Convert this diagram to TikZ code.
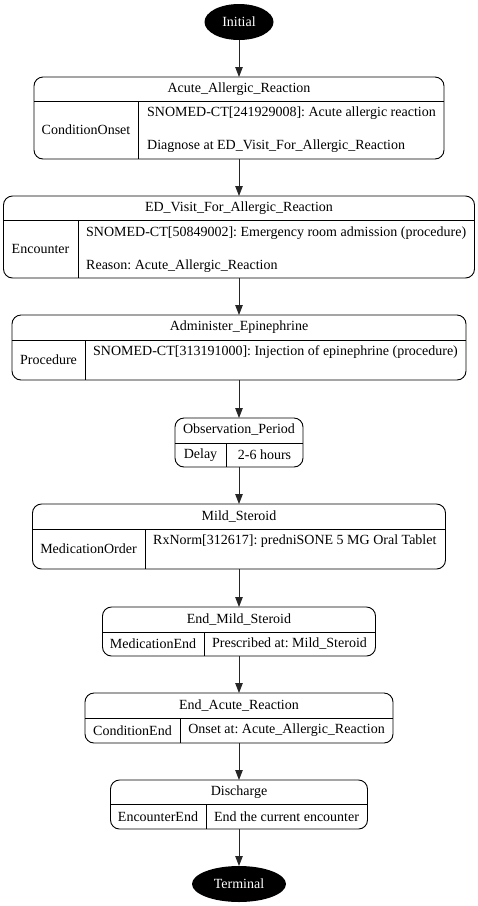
\documentclass[tikz,border=0pt]{standalone}
\usepackage{fontspec}
\setmainfont{Liberation Serif}
\usetikzlibrary{arrows.meta,positioning,shapes.geometric}
\frenchspacing

\begin{document}
\begin{tikzpicture}[x=1pt, y=-1pt,
    state/.style={rectangle, draw=black, line width=0.9pt, rounded corners=9pt,
                  inner sep=0pt, outer sep=0pt},
    term/.style={ellipse, fill=black, text=white, inner sep=0pt, outer sep=0pt},
    lbl/.style={inner sep=0pt, font=\fontsize{14}{16}\selectfont},
    det/.style={lbl, anchor=west},
    sep/.style={line width=0.9pt},
    arr/.style={-{Triangle[length=10pt,width=7.5pt]}, line width=0.9pt, black!85}
]
    \useasboundingbox (0,0) rectangle (478,906);

    % start and end
    \node[term, minimum width=69pt, minimum height=36pt] (init) at (239,22) {};
    \node[lbl, text=white] (initlbl) at (239,22) {Initial};
    \node[term, minimum width=94pt, minimum height=36pt] (term) at (239,884) {};
    \node[lbl, text=white] (termlbl) at (239,884) {Terminal};

    % Acute_Allergic_Reaction
    \node[state, minimum width=410pt, minimum height=82pt] (aar) at (239,118) {};
    \draw[sep] (34,101) -- (444,101);
    \draw[sep] (138,101) -- (138,159);
    \node[lbl] (aart) at (239,89) {Acute\_Allergic\_Reaction};
    \node[lbl] (aark) at (86,130) {ConditionOnset};
    \node[det] (aard1) at (147,113) {SNOMED-CT[241929008]: Acute allergic reaction};
    \node[det] (aard2) at (147,146) {Diagnose at ED\_Visit\_For\_Allergic\_Reaction};

    % ED_Visit_For_Allergic_Reaction
    \node[state, minimum width=471pt, minimum height=82pt] (ed) at (239,237) {};
    \draw[sep] (3.5,220) -- (474.5,220);
    \draw[sep] (78,220) -- (78,278);
    \node[lbl] (edt) at (239,208) {ED\_Visit\_For\_Allergic\_Reaction};
    \node[lbl] (edk) at (40.5,249) {Encounter};
    \node[det] (edd1) at (86,233) {SNOMED-CT[50849002]: Emergency room admission (procedure)};
    \node[det] (edd2) at (86,266) {Reason: Acute\_Allergic\_Reaction};

    % Administer_Epinephrine
    \node[state, minimum width=454pt, minimum height=65pt] (epi) at (239,347.5) {};
    \draw[sep] (12,340) -- (466,340);
    \draw[sep] (85,340) -- (85,380);
    \node[lbl] (epit) at (239,327.5) {Administer\_Epinephrine};
    \node[lbl] (epik) at (48.5,360) {Procedure};
    \node[det] (epid) at (93,352) {SNOMED-CT[313191000]: Injection of epinephrine (procedure)};

    % Observation_Period
    \node[state, minimum width=128pt, minimum height=49pt] (obs) at (239,442.5) {};
    \draw[sep] (175,443) -- (303,443);
    \draw[sep] (226,443) -- (226,467);
    \node[lbl] (obst) at (239,430) {Observation\_Period};
    \node[lbl] (obsk) at (200.5,455) {Delay};
    \node[lbl] (obsd) at (264.5,455) {2-6 hours};

    % Mild_Steroid
    \node[state, minimum width=413pt, minimum height=65pt] (ms) at (239,536.5) {};
    \draw[sep] (32.5,529) -- (445.5,529);
    \draw[sep] (145,529) -- (145,569);
    \node[lbl] (mst) at (239,516.5) {Mild\_Steroid};
    \node[lbl] (msk) at (88.5,549) {MedicationOrder};
    \node[det] (msd) at (153,541) {RxNorm[312617]: predniSONE 5 MG Oral Tablet};

    % End_Mild_Steroid
    \node[state, minimum width=273pt, minimum height=49pt] (ems) at (239,631.5) {};
    \draw[sep] (102.5,632) -- (375.5,632);
    \draw[sep] (204,632) -- (204,656);
    \node[lbl] (emst) at (239,619.5) {End\_Mild\_Steroid};
    \node[lbl] (emsk) at (153,644) {MedicationEnd};
    \node[lbl] (emsd) at (289.5,644) {Prescribed at: Mild\_Steroid};

    % End_Acute_Reaction
    \node[state, minimum width=308pt, minimum height=50pt] (ear) at (239,718) {};
    \draw[sep] (85,718) -- (393,718);
    \draw[sep] (180,718) -- (180,743);
    \node[lbl] (eart) at (239,705.5) {End\_Acute\_Reaction};
    \node[lbl] (eark) at (132.5,730.5) {ConditionEnd};
    \node[lbl] (eard) at (286.5,730.5) {Onset at: Acute\_Allergic\_Reaction};

    % Discharge
    \node[state, minimum width=257pt, minimum height=49pt] (dis) at (239,804.5) {};
    \draw[sep] (110.5,804) -- (367.5,804);
    \draw[sep] (206,804) -- (206,829);
    \node[lbl] (dist) at (239,792) {Discharge};
    \node[lbl] (disk) at (158,816.5) {EncounterEnd};
    \node[lbl] (disd) at (286.5,816.5) {End the current encounter};

    \draw[arr] (init) -- (aar);
    \draw[arr] (aar)  -- (ed);
    \draw[arr] (ed)   -- (epi);
    \draw[arr] (epi)  -- (obs);
    \draw[arr] (obs)  -- (ms);
    \draw[arr] (ms)   -- (ems);
    \draw[arr] (ems)  -- (ear);
    \draw[arr] (ear)  -- (dis);
    \draw[arr] (dis)  -- (term);
\end{tikzpicture}
\end{document}
